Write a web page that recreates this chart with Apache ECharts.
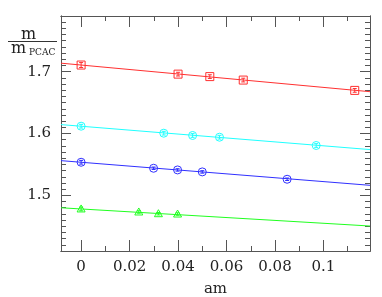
<!DOCTYPE html>
<html><head><meta charset="utf-8">
<script src="https://cdn.jsdelivr.net/npm/echarts@6/dist/echarts.min.js"></script>
<style>html,body{margin:0;padding:0;background:#fff}#c{width:382px;height:297px}</style>
</head><body><div id="c"></div>
<script>
// ---- data ----
const redX   = [0, 0.04, 0.0531, 0.0669, 0.1129];
const redY   = [1.7107, 1.696, 1.692, 1.6864, 1.6697];
const redErr = [0.004, 0.003, 0.003, 0.003, 0.003];

const cyanX   = [0, 0.0341, 0.046, 0.0571, 0.097];
const cyanY   = [1.6118, 1.6005, 1.5968, 1.594, 1.5806];
const cyanErr = [0.003, 0.003, 0.003, 0.003, 0.003];

const blueX   = [0, 0.0299, 0.0398, 0.05, 0.085];
const blueY   = [1.5535, 1.5438, 1.5411, 1.5379, 1.526];
const blueErr = [0.003, 0.002, 0.002, 0.002, 0.002];

const greenX   = [0, 0.0238, 0.0319, 0.0398];
const greenY   = [1.478, 1.4731, 1.4703, 1.4698];
const greenErr = [0.003, 0.002, 0.002, 0.002];

const fitX     = [-0.0083, 0.1192];
const redFit   = [1.7137, 1.6676];
const cyanFit  = [1.6144, 1.574];
const blueFit  = [1.5561, 1.5162];
const greenFit = [1.4799, 1.4504];

const xMajor = [0, 0.02, 0.04, 0.06, 0.08, 0.1];
const xMinor = [0.01, 0.03, 0.05, 0.07, 0.09, 0.11];
const yMajor = [1.5, 1.6, 1.7];
const yMinor = [1.42,1.43,1.44,1.45,1.46,1.47,1.48,1.49,1.51,1.52,1.53,1.54,1.55,1.56,1.57,1.58,1.59,
                1.61,1.62,1.63,1.64,1.65,1.66,1.67,1.68,1.69,1.71,1.72,1.73,1.74,1.75,1.76,1.77,1.78];
const xMin = -0.0083, xMax = 0.1192, yMin = 1.41, yMax = 1.79;

const FONT = 'DejaVu Serif';
const AX = '#555';

function mk(shape, color, xs, ys, errs) {
  return {
    type: 'custom', xAxisIndex: 0, yAxisIndex: 0, z: 5,
    data: xs.map((x, i) => [x, ys[i], errs[i]]),
    renderItem(params, api) {
      const p = api.coord([api.value(0), api.value(1)]);
      const hi = api.coord([api.value(0), api.value(1) + api.value(2)]);
      const lo = api.coord([api.value(0), api.value(1) - api.value(2)]);
      const r = 4;
      const st = {stroke: color, fill: null, lineWidth: 1};
      const ch = [];
      if (shape === 'square') ch.push({type: 'rect', shape: {x: p[0]-r, y: p[1]-r, width: 2*r, height: 2*r}, style: st});
      else if (shape === 'circle') ch.push({type: 'circle', shape: {cx: p[0], cy: p[1], r: r}, style: st});
      else ch.push({type: 'polygon', shape: {points: [[p[0], p[1]-r], [p[0]+r, p[1]+r*0.75], [p[0]-r, p[1]+r*0.75]]}, style: st});
      ch.push({type: 'line', shape: {x1: p[0], y1: hi[1], x2: p[0], y2: lo[1]}, style: st});
      ch.push({type: 'line', shape: {x1: p[0]-2, y1: hi[1], x2: p[0]+2, y2: hi[1]}, style: st});
      ch.push({type: 'line', shape: {x1: p[0]-2, y1: lo[1], x2: p[0]+2, y2: lo[1]}, style: st});
      return {type: 'group', children: ch};
    }
  };
}
function fit(color, ys) {
  return {type: 'line', xAxisIndex: 0, yAxisIndex: 0, data: [[fitX[0], ys[0]], [fitX[1], ys[1]]],
    showSymbol: false, symbol: 'none', lineStyle: {color: color, width: 1}, z: 3, silent: true};
}
function xAx(pos, vals, len, lab) {
  return {type: 'value', min: xMin, max: xMax, position: pos,
    axisLine: {show: true, onZero: false, lineStyle: {color: AX, width: 1}},
    axisTick: {show: true, inside: true, length: len, customValues: vals, lineStyle: {color: AX}},
    axisLabel: lab ? {show: true, customValues: vals, fontFamily: FONT, fontSize: 15, color: '#222', margin: 9,
      formatter: v => String(+v.toFixed(2))} : {show: false},
    splitLine: {show: false},
    name: lab ? 'am' : '', nameLocation: 'middle', nameGap: 31,
    nameTextStyle: {fontFamily: FONT, fontSize: 15, color: '#222'}};
}
function yAx(pos, vals, len, lab) {
  return {type: 'value', min: yMin, max: yMax, position: pos,
    axisLine: {show: true, onZero: false, lineStyle: {color: AX, width: 1}},
    axisTick: {show: true, inside: true, length: len, customValues: vals, lineStyle: {color: AX}},
    axisLabel: lab ? {show: true, customValues: vals, fontFamily: FONT, fontSize: 15, color: '#222', margin: 10,
      formatter: v => v.toFixed(1)} : {show: false},
    splitLine: {show: false}};
}

const chart = echarts.init(document.getElementById('c'), null, {renderer: 'canvas'});
chart.setOption({
  animation: false,
  backgroundColor: '#fff',
  grid: {left: 61, right: 12, top: 16, bottom: 46, containLabel: false, outerBoundsMode: 'none'},
  xAxis: [xAx('bottom', xMajor, 11, true), xAx('bottom', xMinor, 5, false),
          xAx('top', xMajor, 11, false), xAx('top', xMinor, 5, false)],
  yAxis: [yAx('left', yMajor, 10, true), yAx('left', yMinor, 5, false),
          yAx('right', yMajor, 10, false), yAx('right', yMinor, 5, false)],
  series: [
    fit('#ff3030', redFit), fit('#20ffff', cyanFit), fit('#3030ff', blueFit), fit('#20ff20', greenFit),
    mk('square', '#ff3030', redX, redY, redErr),
    mk('circle', '#20ffff', cyanX, cyanY, cyanErr),
    mk('circle', '#3030ff', blueX, blueY, blueErr),
    mk('triangle', '#20ff20', greenX, greenY, greenErr)
  ],
  graphic: [
    {type: 'text', left: 21, top: 27, style: {text: 'm', font: '16px "DejaVu Serif"', fill: '#222'}},
    {type: 'line', shape: {x1: 8, y1: 41.5, x2: 57, y2: 41.5}, style: {stroke: '#333', lineWidth: 1}},
    {type: 'text', left: 11, top: 41, style: {text: 'm', font: '16px "DejaVu Serif"', fill: '#222'}},
    {type: 'text', left: 29, top: 48, style: {text: 'PCAC', font: '9px "DejaVu Serif"', fill: '#222'}}
  ]
});
</script>
</body></html>
